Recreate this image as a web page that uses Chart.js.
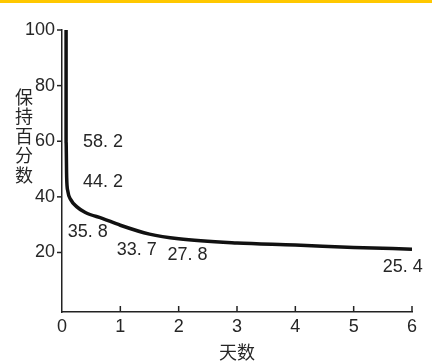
<!DOCTYPE html>
<html>
<head>
<meta charset="utf-8">
<script src="https://cdn.jsdelivr.net/npm/chart.js@4/dist/chart.umd.min.js"></script>
<style>
  html, body { margin: 0; padding: 0; background: #fff; }
  #bar { height: 3px; background: #ffc800; }
  #wrap { width: 432px; height: 360px; position: relative; }
</style>
</head>
<body>
<div id="bar"></div>
<div id="wrap"><canvas id="grafica"></canvas></div>
<script>
// datos de la curva (dias, porcentaje retenido)
const dias = [0.07, 0.07, 0.08, 0.1, 0.15, 0.25, 0.4, 0.7, 1, 1.5, 2, 3, 4, 5, 6];
const retencion = [100, 60, 47, 42, 39, 36.5, 34.4, 32.2, 29.8, 26.6, 24.9, 23.4, 22.7, 21.8, 21.2];

// etiquetas de texto y donde van (en unidades de los ejes)
const valoresEtiqueta = [58.2, 44.2, 35.8, 33.7, 27.8, 25.4];
const etiquetaX = [0.36, 0.36, 0.1, 0.94, 1.81, 5.5];
const etiquetaY = [59.8, 45.3, 27.3, 21.0, 19.0, 14.8];

const ticksX = [0, 1, 2, 3, 4, 5, 6];
const ticksY = [20, 40, 60, 80, 100];
const tituloY = ['保', '持', '百', '分', '数'];
const tituloX = '天数';

const colorTexto = '#262626';
const fuenteNum = '18px "Liberation Sans", Arial, sans-serif';
const fuenteCJK = '18px "Noto Sans CJK SC", sans-serif';

// plugin que pinta marcas, etiquetas y el titulo vertical
const extras = {
  id: 'extras',
  afterDraw(chart) {
    const ctx = chart.ctx;
    const sx = chart.scales.x, sy = chart.scales.y;
    const area = chart.chartArea;
    ctx.save();
    ctx.strokeStyle = '#222';
    ctx.lineWidth = 1.5;
    // marcas del eje x hacia dentro
    ticksX.forEach(v => {
      if (v === 0) return;
      const px = sx.getPixelForValue(v);
      ctx.beginPath();
      ctx.moveTo(px, area.bottom);
      ctx.lineTo(px, area.bottom - 6);
      ctx.stroke();
    });
    // marcas del eje y hacia fuera
    ticksY.forEach(v => {
      const py = sy.getPixelForValue(v);
      ctx.beginPath();
      ctx.moveTo(area.left, py);
      ctx.lineTo(area.left - 5, py);
      ctx.stroke();
    });
    // etiquetas de valores
    ctx.fillStyle = colorTexto;
    ctx.font = fuenteNum;
    ctx.textAlign = 'left';
    ctx.textBaseline = 'middle';
    valoresEtiqueta.forEach((v, i) => {
      const txt = v.toFixed(1).replace('.', '. ');
      ctx.fillText(txt, sx.getPixelForValue(etiquetaX[i]), sy.getPixelForValue(etiquetaY[i]));
    });
    // titulo vertical
    ctx.font = fuenteCJK;
    ctx.textAlign = 'center';
    tituloY.forEach((c, i) => {
      ctx.fillText(c, 24, 94 + i * 19.5);
    });
    ctx.restore();
  }
};

const ctx = document.getElementById('grafica');
new Chart(ctx, {
  type: 'line',
  data: {
    datasets: [{
      data: dias.map((d, i) => ({ x: d, y: retencion[i] })),
      borderColor: '#111',
      borderWidth: 3.5,
      pointRadius: 0,
      fill: false,
      cubicInterpolationMode: 'monotone'
    }]
  },
  options: {
    responsive: true,
    maintainAspectRatio: false,
    animation: false,
    layout: { padding: { top: 27, right: 20, left: 0, bottom: 0 } },
    plugins: { legend: { display: false }, tooltip: { enabled: false } },
    scales: {
      x: {
        type: 'linear',
        min: 0, max: 6,
        afterBuildTicks: s => { s.ticks = ticksX.map(v => ({ value: v })); },
        afterFit: s => { s.height = 51; },
        grid: { display: false, drawTicks: false },
        border: { display: true, color: '#222', width: 1.5 },
        ticks: { color: colorTexto, font: { family: '"Liberation Sans", Arial', size: 18 }, padding: 4, maxRotation: 0 },
        title: { display: true, text: tituloX, color: colorTexto, font: { family: '"Noto Sans CJK SC"', size: 18 }, padding: { top: -4, bottom: 0 } }
      },
      y: {
        type: 'linear',
        min: -1.4, max: 100,
        afterBuildTicks: s => { s.ticks = ticksY.map(v => ({ value: v })); },
        afterFit: s => { s.width = 62; },
        grid: { display: false, drawTicks: false },
        border: { display: true, color: '#222', width: 1.5 },
        ticks: { color: colorTexto, font: { family: '"Liberation Sans", Arial', size: 18 }, padding: 7 }
      }
    }
  },
  plugins: [extras]
});
</script>
</body>
</html>
